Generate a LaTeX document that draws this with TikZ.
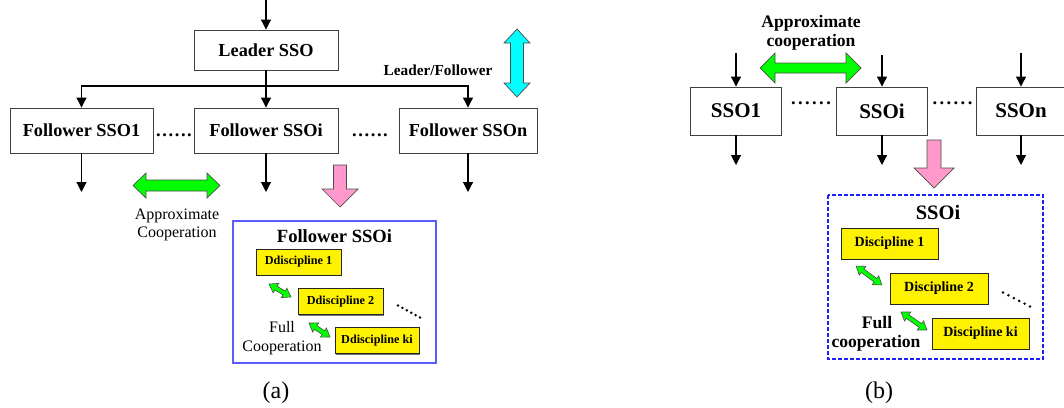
\documentclass[tikz,border=0pt]{standalone}
\usepackage{fontspec}
\setmainfont{Liberation Serif}
\usetikzlibrary{arrows.meta,shadows,calc}

% six dots in a row with adjustable gap
\newcommand\dotrow[1]{.\kern#1.\kern#1.\kern#1.\kern#1.\kern#1.}
% small two-headed block arrow: centre x, centre y, angle, half length
\newcommand\twoway[4]{%
  \begin{scope}[shift={(#1,#2)},rotate=#3]
    \draw[greenarrow,line width=0.6pt]
      (-#4,0) -- (-#4+8,-5.5) -- (-#4+8,-2.2) -- (#4-8,-2.2) -- (#4-8,-5.5)
      -- (#4,0) -- (#4-8,5.5) -- (#4-8,2.2) -- (-#4+8,2.2) -- (-#4+8,5.5) -- cycle;
  \end{scope}}
% six round dots evenly spaced between two named points
\newcommand\slantdots[2]{%
  \foreach \t in {0,0.2,0.4,0.6,0.8,1}{\fill[black] ($(#1)!\t!(#2)$) circle (1.4);}}

\begin{document}
\begin{tikzpicture}[x=1pt,y=-1pt,
  ssobox/.style={draw=black!75,line width=0.9pt,fill=white,inner sep=0pt,
    font=\bfseries\fontsize{18.3}{22}\selectfont},
  ssobig/.style={ssobox,font=\bfseries\fontsize{21}{24}\selectfont,
    minimum width=91,minimum height=48},
  discbox/.style={draw=black!85,line width=0.7pt,fill=yellow,inner sep=0pt,
    drop shadow={shadow xshift=1.4pt,shadow yshift=-1.4pt,fill=black!55,opacity=1}},
  conn/.style={draw=black,line width=1.1pt,-{Triangle[length=10pt,width=10pt]}},
  greenarrow/.style={fill={rgb,255:red,0;green,255;blue,0},draw=black!70,line width=0.7pt},
  cyanarrow/.style={fill={rgb,255:red,0;green,255;blue,255},draw=black!70,line width=0.7pt},
  pinkarrow/.style={fill={rgb,255:red,255;green,153;blue,204},draw=black!70,line width=0.7pt},
  plain/.style={inner sep=0pt,font=\fontsize{16}{19}\selectfont},
  boldtext/.style={inner sep=0pt,font=\bfseries\fontsize{17.6}{20}\selectfont},
  dots/.style={inner sep=0pt,font=\bfseries\fontsize{18.5}{20}\selectfont},
  caption/.style={inner sep=0pt,font=\fontsize{24}{28}\selectfont}]

\useasboundingbox (0,0) rectangle (1064,407);

% ---------------- (a) leader / follower hierarchy ----------------
\node[ssobox,minimum width=144,minimum height=40] (leader) at (266,50) {Leader SSO};
\node[ssobox,minimum width=143,minimum height=45] (f1) at (81.5,130.5) {Follower SSO1};
\node[ssobox,minimum width=144,minimum height=45] (fi) at (266,130.5) {Follower SSOi};
\node[ssobox,minimum width=138,minimum height=45] (fn) at (468,130.5) {Follower SSOn};

\node[dots] (da1) at (174,135) {\dotrow{1.6pt}};
\node[dots] (da2) at (370,135) {\dotrow{1.6pt}};

\coordinate (ina) at (266,0);
\coordinate (bus) at (266,86);
\coordinate (o1) at (81.5,192);
\coordinate (oi) at (266,192);
\coordinate (on) at (468,192);

\draw[conn] (ina) -- (leader);
\draw[conn] (leader) -- (fi);
\draw[conn] (bus) -| (f1.north);
\draw[conn] (bus) -| (fn.north);
\draw[conn] (f1) -- (o1);
\draw[conn] (fi) -- (oi);
\draw[conn] (fn) -- (on);

% leader / follower relation
\draw[cyanarrow] (517,29) -- (530,43) -- (523.5,43) -- (523.5,83) -- (530,83)
  -- (517,97) -- (504,83) -- (510.5,83) -- (510.5,43) -- (504,43) -- cycle;
\node[inner sep=0pt,anchor=base,font=\bfseries\fontsize{15.3}{18}\selectfont]
  (lf) at (438,75) {Leader/Follower};

% approximate cooperation between followers
\draw[greenarrow] (133,185.5) -- (146,173) -- (146,180) -- (207,180) -- (207,173)
  -- (220,185.5) -- (207,198) -- (207,191) -- (146,191) -- (146,198) -- cycle;
\node[plain,anchor=base] (ap1) at (177,219) {Approximate};
\node[plain,anchor=base] (ap2) at (177,237.5) {Cooperation};

% detail of follower SSOi
\draw[pinkarrow] (333.5,165) -- (346.5,165) -- (346.5,189) -- (358,189) -- (340,207)
  -- (322,189) -- (333.5,189) -- cycle;

\draw[draw={rgb,255:red,90;green,90;blue,255},line width=1.1pt] (233,221) rectangle (436,363);
\node[inner sep=0pt,anchor=base,font=\bfseries\fontsize{18.6}{22}\selectfont]
  (fta) at (334.5,242) {Follower SSOi};

\node[discbox,minimum width=85,minimum height=26,font=\bfseries\fontsize{12.2}{14}\selectfont]
  (a1) at (298.5,262) {Ddiscipline 1};
\node[discbox,minimum width=85,minimum height=26,font=\bfseries\fontsize{12.2}{14}\selectfont]
  (a2) at (340.5,301.5) {Ddiscipline 2};
\node[discbox,minimum width=84,minimum height=26,font=\bfseries\fontsize{12.2}{14}\selectfont]
  (a3) at (377,340.5) {Ddiscipline ki};

\twoway{280}{290.5}{-30.6}{12.7}
\twoway{319.5}{330}{-33.7}{12.6}

\coordinate (sa0) at (398,305.5);
\coordinate (sa1) at (420,317.5);
\slantdots{sa0}{sa1}

\node[plain,anchor=base] (fu1) at (282,332) {Full};
\node[plain,anchor=base] (fu2) at (282,351) {Cooperation};

\node[caption,anchor=base] (capa) at (276,398) {(a)};

% ---------------- (b) peer subspaces ----------------
\node[ssobig] (s1) at (736,111) {SSO1};
\node[ssobig] (si) at (882,111) {SSOi};
\node[ssobig,minimum width=90] (sn) at (1021,111) {SSOn};

\node[dots] (db1) at (811,103) {\dotrow{2.4pt}};
\node[dots] (db2) at (952.5,103) {\dotrow{2.4pt}};

\coordinate (in1) at (736,53);
\coordinate (ini) at (882,55);
\coordinate (inn) at (1021,53);
\coordinate (ou1) at (736,165);
\coordinate (oui) at (882,165);
\coordinate (oun) at (1021,165);

\draw[conn] (in1) -- (s1);
\draw[conn] (ini) -- (si);
\draw[conn] (inn) -- (sn);
\draw[conn] (s1) -- (ou1);
\draw[conn] (si) -- (oui);
\draw[conn] (sn) -- (oun);

\node[boldtext,anchor=base] (bp1) at (811,27) {Approximate};
\node[boldtext,anchor=base] (bp2) at (811,46) {cooperation};
\draw[greenarrow] (760,68) -- (775,53) -- (775,63) -- (846,63) -- (846,53)
  -- (861,68) -- (846,83) -- (846,73) -- (775,73) -- (775,83) -- cycle;

\draw[pinkarrow] (927,140) -- (941,140) -- (941,168) -- (954,168) -- (934,188)
  -- (914,168) -- (927,168) -- cycle;

\draw[draw={rgb,255:red,30;green,30;blue,255},line width=1.2pt,dash pattern=on 4pt off 2pt]
  (828,195) rectangle (1043,359);
\node[inner sep=0pt,anchor=base,font=\bfseries\fontsize{20.5}{24}\selectfont]
  (ftb) at (938,219) {SSOi};

\node[discbox,minimum width=97,minimum height=31,font=\bfseries\fontsize{14}{16}\selectfont]
  (b1) at (889.5,243.5) {Discipline 1};
\node[discbox,minimum width=98,minimum height=31,font=\bfseries\fontsize{14}{16}\selectfont]
  (b2) at (939,288.5) {Discipline 2};
\node[discbox,minimum width=97,minimum height=31,font=\bfseries\fontsize{14}{16}\selectfont]
  (b3) at (980.5,333.5) {Discipline ki};

\twoway{869}{275.5}{-36.2}{16}
\twoway{914}{321}{-34.7}{15.8}

\coordinate (sb0) at (1003,292.5);
\coordinate (sb1) at (1030,306.5);
\slantdots{sb0}{sb1}

\node[boldtext,anchor=base] (bf1) at (877,328) {Full};
\node[boldtext,anchor=base] (bf2) at (876,347) {cooperation};

\node[caption,anchor=base] (capb) at (879,398) {(b)};

\end{tikzpicture}
\end{document}
